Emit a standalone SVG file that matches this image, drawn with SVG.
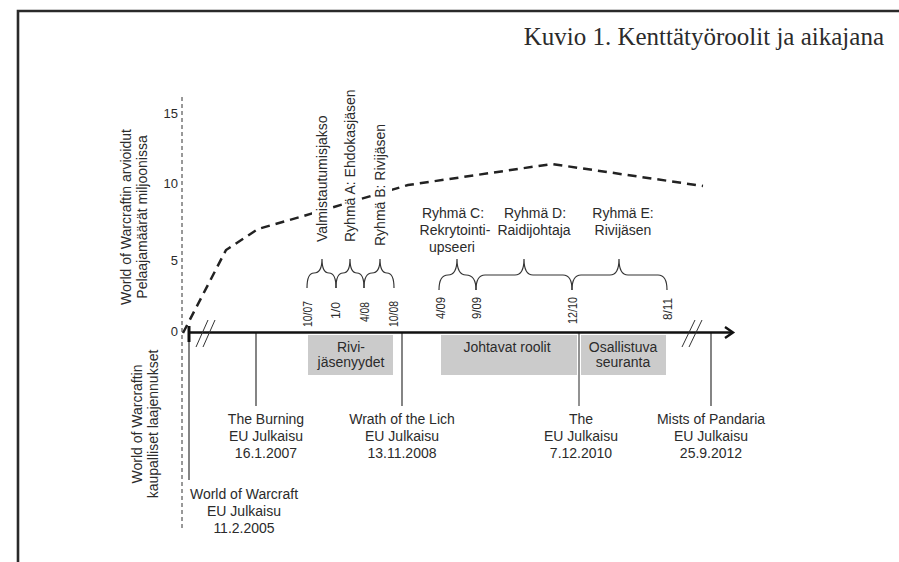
<svg xmlns="http://www.w3.org/2000/svg" width="899" height="562" viewBox="0 0 899 562">
<style>
.t{font-family:"Liberation Sans",Arial,sans-serif;font-size:14px;fill:#2b2b2b}
.c{text-anchor:middle}
.tick{font-size:13px;text-anchor:end}
.date{font-size:13px;text-anchor:end}
.ln{stroke:#333;stroke-width:1.2;fill:none}
.brace{stroke:#333;stroke-width:1.2;fill:none}
.box{fill:#cbcbcb}
.brk{stroke:#333;stroke-width:1;fill:none}
.bg{fill:#fff}
</style>
<rect width="899" height="562" fill="#fff"/>
<path d="M18,562 V11 H899" fill="none" stroke="#2a2a2a" stroke-width="2.6"/>
<g id="title"><text x="884" y="45" font-family="'Liberation Serif',serif" font-size="25" fill="#2b2b2b" text-anchor="end">Kuvio 1. Kenttätyöroolit ja aikajana</text></g>

<g id="y-axis">
<line x1="182" y1="97" x2="182" y2="530" stroke="#333" stroke-width="1" stroke-dasharray="4 3"/>
<text class="t tick" x="178" y="118">15</text>
<text class="t tick" x="178" y="188">10</text>
<text class="t tick" x="178" y="265">5</text>
<text class="t tick" x="178" y="336">0</text>
<text class="t c" transform="translate(131,217) rotate(-90)">World of Warcraftin arvioidut</text>
<text class="t c" transform="translate(147,217) rotate(-90)">Pelaajamäärät miljoonissa</text>
<text class="t c" transform="translate(142,424) rotate(-90)">World of Warcraftin</text>
<text class="t c" transform="translate(158,424) rotate(-90)">kaupalliset laajennukset</text>
</g>

<g id="player-curve">
<polyline points="183,333 226,250 258,229 300,217 408,185 552,164 703,186" fill="none" stroke="#222" stroke-width="2.5" stroke-dasharray="9 6"/>
</g>

<g id="phase-labels">
<rect class="bg" x="312" y="108" width="20" height="138"/>
<rect class="bg" x="343" y="86" width="18" height="160"/>
<rect class="bg" x="373" y="118" width="19" height="132"/>
<text class="t" transform="translate(327,242) rotate(-90)">Valmistautumisjakso</text>
<text class="t" transform="translate(355,242) rotate(-90)">Ryhmä A: Ehdokasjäsen</text>
<text class="t" transform="translate(385,246) rotate(-90)">Ryhmä B: Rivijäsen</text>
<text class="t c" x="453" y="218">Ryhmä C:</text>
<text class="t c" x="455" y="235">Rekrytointi-</text>
<text class="t c" x="452" y="252">upseeri</text>
<text class="t c" x="535" y="218">Ryhmä D:</text>
<text class="t c" x="534" y="235">Raidijohtaja</text>
<text class="t c" x="623" y="218">Ryhmä E:</text>
<text class="t c" x="623" y="235">Rivijäsen</text>
</g>

<g id="braces">
<path class="brace" d="M307,288 Q307,273 314,273 Q322,273 322,259 Q322,273 329,273 Q336,273 336,288"/>
<path class="brace" d="M336,288 Q336,273 343,273 Q350,273 350,259 Q350,273 357,273 Q364,273 364,288"/>
<path class="brace" d="M364,288 Q364,273 372,273 Q380,273 380,259 Q380,273 387,273 Q394,273 394,288"/>
<path class="brace" d="M439,290 Q439,275 448,275 Q457,275 457,259 Q457,275 466,275 Q476,275 476,290"/>
<path class="brace" d="M476,290 Q476,275 485,275 L515,275 Q524,275 524,259 Q524,275 533,275 L563,275 Q572,275 572,290"/>
<path class="brace" d="M572,290 Q572,275 581,275 L610,275 Q619,275 619,259 Q619,275 628,275 L658,275 Q667,275 667,290"/>
</g>

<g id="dates">
<text class="t date" textLength="26" lengthAdjust="spacingAndGlyphs" transform="translate(312,301) rotate(-90)">10/07</text>
<text class="t date" textLength="17" lengthAdjust="spacingAndGlyphs" transform="translate(340,302) rotate(-90)">1/0</text>
<text class="t date" textLength="20" lengthAdjust="spacingAndGlyphs" transform="translate(369,302) rotate(-90)">4/08</text>
<text class="t date" textLength="26" lengthAdjust="spacingAndGlyphs" transform="translate(398,301) rotate(-90)">10/08</text>
<text class="t date" textLength="22" lengthAdjust="spacingAndGlyphs" transform="translate(445,297) rotate(-90)">4/09</text>
<text class="t date" textLength="22" lengthAdjust="spacingAndGlyphs" transform="translate(481,297) rotate(-90)">9/09</text>
<text class="t date" textLength="27" lengthAdjust="spacingAndGlyphs" transform="translate(577,297) rotate(-90)">12/10</text>
<text class="t date" textLength="22" lengthAdjust="spacingAndGlyphs" transform="translate(672,298) rotate(-90)">8/11</text>
</g>

<g id="role-boxes">
<rect class="box" x="308" y="335" width="85" height="40"/>
<text class="t c" x="351" y="352">Rivi-</text>
<text class="t c" x="351" y="367">jäsenyydet</text>
<rect class="box" x="441" y="335" width="136" height="40"/>
<text class="t c" x="507" y="352">Johtavat roolit</text>
<rect class="box" x="581" y="335" width="85" height="40"/>
<text class="t c" x="623" y="352">Osallistuva</text>
<text class="t c" x="623" y="367">seuranta</text>
</g>

<g id="connectors">
<line class="ln" x1="189" y1="333" x2="189" y2="480"/>
<line x1="189" y1="326" x2="189" y2="342" stroke="#111" stroke-width="3"/>
<line class="ln" x1="256" y1="333" x2="256" y2="406"/>
<line class="ln" x1="402" y1="333" x2="402" y2="406"/>
<line x1="579" y1="333" x2="579" y2="406" stroke="#777" stroke-width="1.6"/>
<line class="ln" x1="711" y1="333" x2="711" y2="406"/>
<line x1="188" y1="332.5" x2="732" y2="332.5" stroke="#111" stroke-width="2.6"/>
<polyline points="725,327 733,332.5 725,338" fill="none" stroke="#111" stroke-width="2.4"/>
<path class="brk" d="M196,347 L208,320 M203,347 L215,320"/>
<path class="brk" d="M682,347 L695,320 M689,347 L702,320"/>
</g>

<g id="release-wow">
<text class="t c" x="244" y="499">World of Warcraft</text>
<text class="t c" x="244" y="516">EU Julkaisu</text>
<text class="t c" x="244" y="533">11.2.2005</text>
</g>
<g id="release-bc">
<text class="t c" x="266" y="424">The Burning</text>
<text class="t c" x="266" y="441">EU Julkaisu</text>
<text class="t c" x="266" y="458">16.1.2007</text>
</g>
<g id="release-wotlk">
<text class="t c" x="402" y="424">Wrath of the Lich</text>
<text class="t c" x="402" y="441">EU Julkaisu</text>
<text class="t c" x="402" y="458">13.11.2008</text>
</g>
<g id="release-cata">
<text class="t c" x="581" y="424">The</text>
<text class="t c" x="581" y="441">EU Julkaisu</text>
<text class="t c" x="581" y="458">7.12.2010</text>
</g>
<g id="release-mop">
<text class="t c" x="711" y="424">Mists of Pandaria</text>
<text class="t c" x="711" y="441">EU Julkaisu</text>
<text class="t c" x="711" y="458">25.9.2012</text>
</g>
</svg>
